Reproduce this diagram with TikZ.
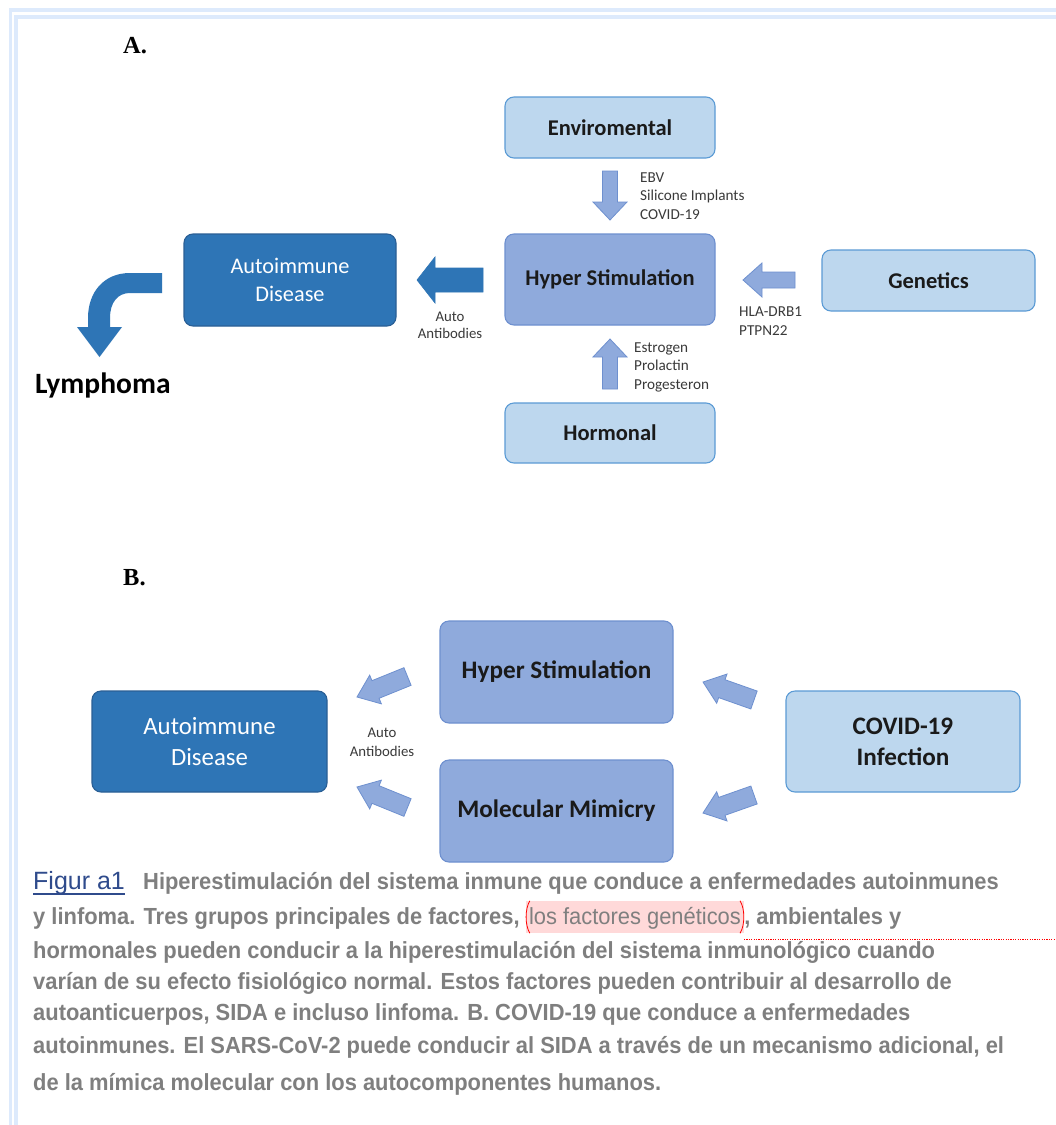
\documentclass[tikz,border=0pt]{standalone}
\usepackage{fontspec}
\setmainfont{Carlito}
\newfontfamily\capfont[FakeStretch=0.94]{Liberation Sans}
\newfontfamily\figfont{Liberation Sans}
\newfontfamily\serifb{Liberation Serif}
\usetikzlibrary{calc}
\definecolor{lightfill}{HTML}{BDD7EE}
\definecolor{lightdraw}{HTML}{5B9BD5}
\definecolor{medfill}{HTML}{8FAADC}
\definecolor{meddraw}{HTML}{6E90CF}
\definecolor{darkfill}{HTML}{2E75B6}
\definecolor{darkdraw}{HTML}{2A5F95}
\definecolor{framecol}{HTML}{DDEAFC}
\definecolor{capgray}{HTML}{7F7F7F}
\definecolor{figblue}{HTML}{2F4B8C}
\definecolor{hlpink}{HTML}{FFD9D9}
\definecolor{labtext}{HTML}{3A3A3A}
\definecolor{boxtext}{HTML}{1A1A1A}
\newcommand\blockarrow[6]{%
  \coordinate (ba-h) at ($(#3)!#6!(#2)$);
  \path[#1] ($(#2)!#4!90:(#3)$) -- ($(ba-h)!#4!90:(#3)$) -- ($(ba-h)!#5!90:(#3)$)
    -- (#3) -- ($(ba-h)!#5!-90:(#3)$) -- ($(ba-h)!#4!-90:(#3)$) -- ($(#2)!#4!-90:(#3)$) -- cycle;
}
\tikzset{
  box/.style={rounded corners=9pt, line width=1.1pt, align=center, inner sep=0pt},
  lightbox/.style={box, fill=lightfill, draw=lightdraw, text=boxtext, font=\bfseries\fontsize{22.5}{27}\selectfont},
  medbox/.style={box, fill=medfill, draw=meddraw, text=boxtext, font=\bfseries\fontsize{22.5}{27}\selectfont},
  darkbox/.style={box, fill=darkfill, draw=darkdraw, text=white, font=\fontsize{22.3}{28}\selectfont},
  lab/.style={inner sep=0pt, text=labtext, font=\fontsize{15.2}{18.5}\selectfont},
  medarrow/.style={fill=medfill, draw=meddraw, line width=0.8pt},
  darkarrow/.style={fill=darkfill, draw=darkfill, line width=0.6pt},
  captext/.style={inner sep=0pt, anchor=base west, text=capgray, font=\capfont\bfseries\fontsize{23.3}{26}\selectfont},
  panel/.style={inner sep=0pt, anchor=base west, font=\serifb\bfseries\fontsize{24.5}{27}\selectfont},
}
\begin{document}
\begin{tikzpicture}[x=1pt,y=-1pt]
\fill[white] (0,0) rectangle (1056,1125);
\useasboundingbox (0,0) rectangle (1056,1125);
% frame
\draw[framecol, line width=3.5pt] (1056,10) -- (10.5,10) -- (10.5,1125);
\draw[framecol, line width=4.5pt] (1056,17) -- (16,17) -- (16,1125);
% panel A
\node[panel] (pa) at (123,53) {A.};
\node[lightbox, minimum width=210pt, minimum height=61pt] (env) at (610,127.5) {Enviromental};
\node[medbox, minimum width=210pt, minimum height=91pt] (hyp) at (610,279.5) {Hyper Stimulation};
\node[lightbox, minimum width=213pt, minimum height=61pt] (gen) at (928.5,280.5) {Genetics};
\node[lightbox, minimum width=210pt, minimum height=60pt] (hor) at (610,433) {Hormonal};
\node[darkbox, minimum width=212pt, minimum height=92pt] (adA) at (290,280) {Autoimmune\\Disease};
\coordinate (envT) at (610,171); \coordinate (envP) at (610,220);
\blockarrow{medarrow}{envT}{envP}{7.5pt}{17pt}{18pt}
\coordinate (horT) at (610,389); \coordinate (horP) at (610,339);
\blockarrow{medarrow}{horT}{horP}{7.5pt}{17pt}{18pt}
\coordinate (genT) at (795,280); \coordinate (genP) at (743,280);
\blockarrow{medarrow}{genT}{genP}{8pt}{17pt}{19pt}
\coordinate (autT) at (483,280); \coordinate (autP) at (417,280);
\blockarrow{darkarrow}{autT}{autP}{12pt}{23pt}{18pt}
\node[lab, anchor=west, align=left] (envlab) at (640,196) {EBV\\Silicone Implants\\COVID-19};
\node[lab, anchor=west, align=left] (horlab) at (634,367) {Estrogen\\Prolactin\\Progesteron};
\node[lab, anchor=west, align=left] (genlab) at (739,321) {HLA-DRB1\\PTPN22};
\node[lab, align=center, font=\fontsize{14.8}{17}\selectfont] (ablabA) at (450,325) {Auto\\Antibodies};
% bent arrow to lymphoma
\fill[darkfill] (162,273) -- (130,273) .. controls (104,273) and (88,292) .. (88,318) -- (88,327) -- (77,327) -- (99.5,357) -- (122,327) -- (110,327) -- (110,318) .. controls (110,302) and (118,293) .. (130,293) -- (162,293) -- cycle;
\node[inner sep=0pt, anchor=west, font=\bfseries\fontsize{29.5}{33}\selectfont, text=black] (lym) at (35,385) {Lymphoma};
% panel B
\node[panel] (pb) at (123,585) {B.};
\node[darkbox, minimum width=235pt, minimum height=101pt, font=\fontsize{24.8}{31}\selectfont] (adB) at (209.5,741.5) {Autoimmune\\Disease};
\node[medbox, minimum width=233pt, minimum height=102pt, font=\bfseries\fontsize{25.2}{29}\selectfont] (hypB) at (556.5,672) {Hyper Stimulation};
\node[medbox, minimum width=233pt, minimum height=102pt, font=\bfseries\fontsize{25.2}{29}\selectfont] (molB) at (556.5,811) {Molecular Mimicry};
\node[lightbox, minimum width=234pt, minimum height=101pt, font=\bfseries\fontsize{25.2}{31}\selectfont] (covB) at (903,741.5) {COVID-19\\Infection};
\coordinate (b1T) at (407.5,676.5); \coordinate (b1P) at (357,697);
\blockarrow{medarrow}{b1T}{b1P}{9.5pt}{15.5pt}{20pt}
\coordinate (b2T) at (407.5,807.5); \coordinate (b2P) at (357,787);
\blockarrow{medarrow}{b2T}{b2P}{9.5pt}{15.5pt}{20pt}
\coordinate (b3T) at (754,700); \coordinate (b3P) at (703,682);
\blockarrow{medarrow}{b3T}{b3P}{9.5pt}{15.5pt}{20pt}
\coordinate (b4T) at (754,795); \coordinate (b4P) at (703,813);
\blockarrow{medarrow}{b4T}{b4P}{9.5pt}{15.5pt}{20pt}
\node[lab, align=center, font=\fontsize{14.8}{19}\selectfont] (ablabB) at (382,742) {Auto\\Antibodies};
% caption
\node[inner sep=0pt, anchor=base west, text=figblue, font=\figfont\fontsize{25}{28}\selectfont] (fig) at (33,889) {Figur a1};
\draw[figblue, line width=1.4pt] ([yshift=-5pt]fig.base west) -- ([yshift=-5pt]fig.base east);
\node[captext] (c1) at (143,889) {Hiperestimulación del sistema inmune que conduce a enfermedades autoinmunes};
\node[captext] (c2a) at (33,924) {y linfoma. Tres grupos principales de factores,};
\node[captext, fill=hlpink, font=\capfont\fontsize{23.3}{26}\selectfont, text height=20pt, text depth=6pt, inner ysep=3pt, inner xsep=3pt] (c2b) at ([xshift=6pt]c2a.base east) {los factores genéticos};
\node[captext] (c2c) at (c2b.base east) {, ambientales y};
\draw[red, line width=0.8pt] ([xshift=4pt]c2b.north west) .. controls ([xshift=-1pt,yshift=-8pt]c2b.north west) and ([xshift=-1pt,yshift=8pt]c2b.south west) .. ([xshift=4pt]c2b.south west);
\draw[red, line width=0.8pt] ([xshift=-4pt]c2b.north east) .. controls ([xshift=1pt,yshift=-8pt]c2b.north east) and ([xshift=1pt,yshift=8pt]c2b.south east) .. ([xshift=-4pt]c2b.south east);
\coordinate (dotend) at (1056,939);
\draw[red, dash pattern=on 1.2pt off 1.2pt, line width=1pt] (c2b.south east |- dotend) -- (dotend);
\node[captext] (c3) at (33,958) {hormonales pueden conducir a la hiperestimulación del sistema inmunológico cuando};
\node[captext] (c4) at (33,989) {varían de su efecto fisiológico normal. Estos factores pueden contribuir al desarrollo de};
\node[captext] (c5) at (33,1020) {autoanticuerpos, SIDA e incluso linfoma. B. COVID-19 que conduce a enfermedades};
\node[captext] (c6) at (33,1053) {autoinmunes. El SARS-CoV-2 puede conducir al SIDA a través de un mecanismo adicional, el};
\node[captext] (c7) at (33,1090) {de la mímica molecular con los autocomponentes humanos.};
\end{tikzpicture}
\end{document}
